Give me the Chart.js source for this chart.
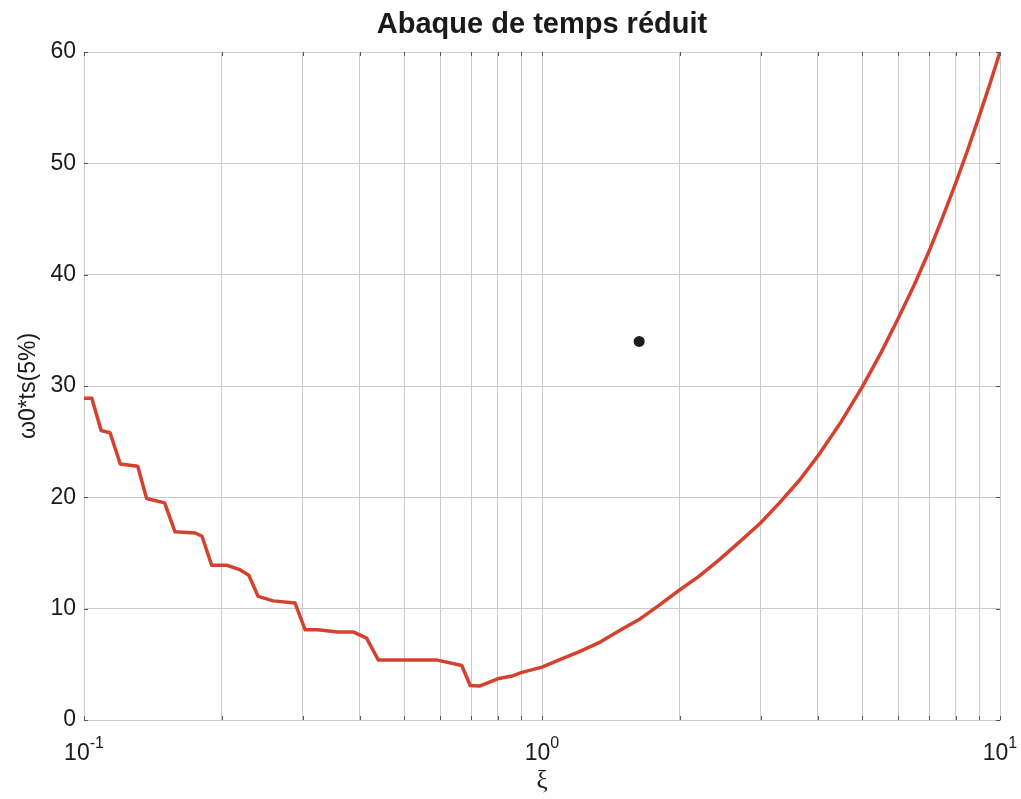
<!DOCTYPE html>
<html>
<head>
<meta charset="utf-8">
<title>Abaque de temps réduit</title>
<script src="https://cdn.jsdelivr.net/npm/chart.js@4.4.1/dist/chart.umd.min.js"></script>
<style>
    html, body { margin: 0; padding: 0; background: #fff; }
    #wrap { width: 1021px; height: 799px; position: relative; }
</style>
</head>
<body>
<div id="wrap"><canvas id="abaque"></canvas></div>
<script>
// damping ratio (xi) and reduced settling time w0*ts at 5%
const xi = [
    0.100, 0.104, 0.109, 0.114, 0.120, 0.131, 0.137, 0.150, 0.158, 0.175,
    0.181, 0.190, 0.205, 0.219, 0.229, 0.240, 0.259, 0.289, 0.304, 0.324,
    0.358, 0.388, 0.414, 0.439, 0.588, 0.668, 0.697, 0.730, 0.800, 0.860,
    0.900, 1.00, 1.09, 1.20, 1.34, 1.50, 1.64, 1.80, 2.00, 2.20,
    2.44, 2.70, 3.00, 3.30, 3.66, 4.00, 4.47, 5.00, 5.50, 6.00,
    6.50, 7.00, 7.50, 8.00, 8.50, 9.00, 9.50, 10.0
];
const tsReduced = [
    28.9, 28.9, 26.0, 25.8, 23.0, 22.8, 19.9, 19.5, 16.9, 16.8,
    16.5, 13.9, 13.9, 13.5, 13.0, 11.1, 10.7, 10.5, 8.1, 8.1,
    7.9, 7.9, 7.35, 5.4, 5.4, 4.9, 3.1, 3.05, 3.7, 3.95,
    4.25, 4.75, 5.4, 6.1, 7.0, 8.2, 9.1, 10.3, 11.7, 12.9,
    14.4, 16.0, 17.7, 19.5, 21.6, 23.7, 26.6, 29.9, 33.0, 36.1,
    39.1, 42.1, 45.2, 48.2, 51.2, 54.2, 57.1, 60.0
];

// operating point
const pointXi = [1.63];
const pointTs = [34];

// log grid positions on the x axis, decade labels
const xGrid = [0.1, 0.2, 0.3, 0.4, 0.5, 0.6, 0.7, 0.8, 0.9,
               1, 2, 3, 4, 5, 6, 7, 8, 9, 10];
const decades = [0.1, 1, 10];
const decadeExp = ['-1', '0', '1'];

const chartTitle = 'Abaque de temps réduit';

const SANS = "'Liberation Sans', Arial, Helvetica, sans-serif";
const INK = '#1a1a1a';
const GRID = '#cbcbcb';

// title over the plot box, small inward tick marks, decade labels with exponents
const axisDecor = {
    id: 'axisDecor',
    afterDraw(chart) {
        const ctx = chart.ctx;
        const { left, right, top, bottom } = chart.chartArea;
        const xs = chart.scales.x, ys = chart.scales.y;

        ctx.save();
        ctx.strokeStyle = '#555';
        ctx.lineWidth = 1;
        ctx.beginPath();
        xGrid.forEach(v => {
            const px = Math.round(xs.getPixelForValue(v)) + 0.5;
            ctx.moveTo(px, top); ctx.lineTo(px, top + 4);
            ctx.moveTo(px, bottom); ctx.lineTo(px, bottom - 4);
        });
        ys.ticks.forEach(t => {
            const py = Math.round(ys.getPixelForValue(t.value)) + 0.5;
            ctx.moveTo(left, py); ctx.lineTo(left + 4, py);
            ctx.moveTo(right, py); ctx.lineTo(right - 4, py);
        });
        ctx.stroke();

        ctx.fillStyle = INK;
        ctx.textBaseline = 'alphabetic';

        ctx.textAlign = 'center';
        ctx.font = 'bold 29px ' + SANS;
        ctx.fillText(chartTitle, (left + right) / 2, 33);

        ctx.textAlign = 'left';
        decades.forEach((v, i) => {
            const px = xs.getPixelForValue(v);
            ctx.font = '23px ' + SANS;
            const wBase = ctx.measureText('10').width;
            ctx.font = '16px ' + SANS;
            const wExp = ctx.measureText(decadeExp[i]).width;
            const x0 = px - (wBase + wExp) / 2;
            ctx.font = '23px ' + SANS;
            ctx.fillText('10', x0, 760);
            ctx.font = '16px ' + SANS;
            ctx.fillText(decadeExp[i], x0 + wBase, 748);
        });
        ctx.restore();
    }
};

new Chart(document.getElementById('abaque').getContext('2d'), {
    type: 'scatter',
    data: {
        datasets: [
            {
                data: xi.map((x, i) => ({ x: x, y: tsReduced[i] })),
                showLine: true,
                borderColor: '#d4412f',
                borderWidth: 3.5,
                borderJoinStyle: 'round',
                borderCapStyle: 'round',
                pointRadius: 0,
                tension: 0
            },
            {
                data: pointXi.map((x, i) => ({ x: x, y: pointTs[i] })),
                showLine: false,
                pointRadius: 5.5,
                pointBackgroundColor: '#1c1c1c',
                pointBorderWidth: 0
            }
        ]
    },
    options: {
        responsive: true,
        maintainAspectRatio: false,
        animation: false,
        layout: { padding: { left: 0, right: 21, top: 52, bottom: 0 } },
        plugins: {
            legend: { display: false },
            tooltip: { enabled: false },
            title: { display: false }
        },
        scales: {
            x: {
                type: 'logarithmic',
                min: 0.1,
                max: 10,
                afterBuildTicks: s => { s.ticks = xGrid.map(v => ({ value: v })); },
                afterFit: s => { s.height = 79; },
                grid: { color: GRID, lineWidth: 1, drawTicks: false },
                border: { display: true, color: GRID },
                ticks: { display: false },
                title: {
                    display: true,
                    text: 'ξ',
                    color: INK,
                    font: { family: "'Liberation Serif', 'DejaVu Serif', serif", size: 25, lineHeight: 1.2 },
                    padding: { top: 0, bottom: 3 }
                }
            },
            y: {
                min: 0,
                max: 60,
                afterFit: s => { s.width = 84; },
                grid: { color: GRID, lineWidth: 1, drawTicks: false },
                border: { display: true, color: GRID },
                ticks: {
                    stepSize: 10,
                    padding: 8,
                    color: INK,
                    font: { family: SANS, size: 23 }
                },
                title: {
                    display: true,
                    text: 'ω0*ts(5%)',
                    color: INK,
                    font: { family: SANS, size: 23, lineHeight: 1.2 },
                    padding: { top: 15, bottom: 0 }
                }
            }
        }
    },
    plugins: [axisDecor]
});
</script>
</body>
</html>
